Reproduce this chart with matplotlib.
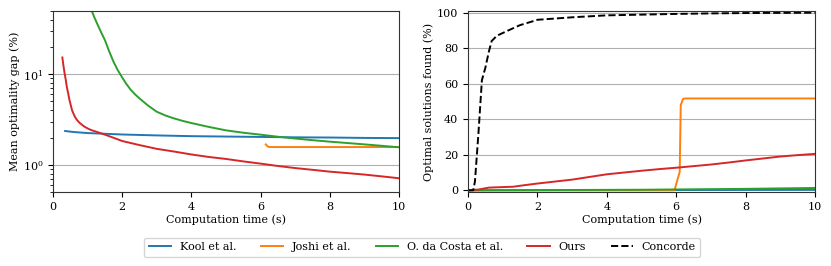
import matplotlib
matplotlib.use("Agg")
import matplotlib.pyplot as plt
from matplotlib.lines import Line2D

plt.rcParams['font.family'] = ['DejaVu Serif']
plt.rcParams['font.size'] = 8

# ---- Left panel: mean optimality gap (%) ----
kool_t = [0.35, 0.6, 1.0, 1.5, 2.0, 3.0, 4.0, 5.0, 6.0, 7.0, 8.0, 9.0, 10.0]
kool_gap = [2.36, 2.30, 2.24, 2.20, 2.16, 2.11, 2.07, 2.05, 2.03, 2.01, 2.00, 1.98, 1.97]

joshi_t = [6.15, 6.2, 6.25, 7.0, 8.0, 9.0, 10.0]
joshi_gap = [1.68, 1.60, 1.57, 1.57, 1.57, 1.57, 1.57]

costa_t = [1.12, 1.2, 1.3, 1.4, 1.5, 1.62, 1.75, 1.87, 2.0, 2.12, 2.25, 2.37, 2.5, 2.75, 3.0, 3.25, 3.5, 3.75, 4.0, 4.5, 5.0, 5.5, 6.0, 6.5, 7.0, 7.5, 8.0, 8.5, 9.0, 9.5, 10.0]
costa_gap = [50, 42, 34.5, 28.5, 23.8, 18.0, 13.7, 11.1, 9.2, 7.8, 6.7, 6.0, 5.4, 4.5, 3.85, 3.5, 3.25, 3.05, 2.89, 2.62, 2.40, 2.26, 2.15, 2.04, 1.95, 1.87, 1.80, 1.74, 1.68, 1.62, 1.56]

ours_t = [0.27, 0.3, 0.33, 0.37, 0.4, 0.44, 0.47, 0.51, 0.55, 0.6, 0.65, 0.7, 0.77, 0.85, 0.92, 1.0, 1.1, 1.2, 1.4, 1.7, 2.0, 2.5, 3.0, 3.5, 4.0, 4.5, 5.0, 5.5, 6.0, 6.5, 7.0, 7.5, 8.0, 8.5, 9.0, 9.5, 10.0]
ours_gap = [15.3, 12.5, 10.5, 8.6, 7.2, 6.1, 5.3, 4.6, 4.0, 3.6, 3.3, 3.1, 2.9, 2.74, 2.62, 2.52, 2.42, 2.35, 2.22, 2.02, 1.83, 1.65, 1.50, 1.40, 1.30, 1.22, 1.16, 1.09, 1.03, 0.97, 0.92, 0.88, 0.84, 0.81, 0.78, 0.745, 0.71]

# ---- Right panel: optimal solutions found (%) ----
conc_t = [0.0, 0.15, 0.2, 0.3, 0.4, 0.5, 0.6, 0.68, 0.83, 1.16, 1.5, 1.84, 2.0, 3.0, 4.0, 5.0, 6.0, 7.0, 8.0, 9.0, 10.0]
conc_pct = [0.0, 0.0, 5.0, 32.0, 62.0, 69.0, 78.0, 84.0, 87.0, 90.0, 93.0, 95.0, 96.0, 97.4, 98.5, 98.9, 99.3, 99.6, 99.8, 99.9, 100.0]

joshi_pt = [0.0, 5.95, 6.05, 6.1, 6.13, 6.2, 6.25, 10.0]
joshi_pct = [0.0, 0.0, 7.0, 10.3, 48.0, 51.5, 51.7, 51.7]

ours_pt = [0.0, 0.3, 0.6, 1.0, 1.3, 1.6, 2.0, 2.5, 3.0, 3.5, 4.0, 4.5, 5.0, 5.5, 6.0, 6.5, 7.0, 7.5, 8.0, 8.5, 9.0, 9.5, 10.0]
ours_pct = [0.0, 0.4, 1.5, 1.8, 2.0, 2.8, 3.8, 4.9, 6.0, 7.5, 9.0, 10.0, 11.0, 11.9, 12.7, 13.6, 14.5, 15.6, 16.8, 17.9, 19.0, 19.8, 20.5]

costa_pt = [0.0, 2.0, 5.0, 8.0, 10.0]
costa_pct = [0.0, 0.1, 0.3, 0.8, 1.3]

kool_pt = [0.0, 5.0, 10.0]
kool_pct = [0.0, 0.1, 0.3]

c_blue, c_orange, c_green, c_red = '#1f77b4', '#ff7f0e', '#2ca02c', '#d62728'
lw = 1.4

fig = plt.figure(figsize=(8.31, 2.66), dpi=100)
ax1 = fig.add_axes([0.0638, 0.278, 0.4163, 0.681])
ax2 = fig.add_axes([0.5632, 0.278, 0.4176, 0.681])

ax1.plot(kool_t, kool_gap, color=c_blue, lw=lw)
ax1.plot(joshi_t, joshi_gap, color=c_orange, lw=lw)
ax1.plot(costa_t, costa_gap, color=c_green, lw=lw)
ax1.plot(ours_t, ours_gap, color=c_red, lw=lw)
ax1.set_yscale('log')
ax1.set_ylim(0.5, 50)
ax1.set_xlim(0, 10)
ax1.set_xticks([0, 2, 4, 6, 8, 10])
ax1.grid(axis='y', which='major', color='#b0b0b0', lw=0.8)
ax1.set_axisbelow(True)
ax1.set_xlabel('Computation time (s)', labelpad=2)
ax1.set_ylabel('Mean optimality gap (%)', labelpad=2)

ax2.plot(kool_pt, kool_pct, color=c_blue, lw=lw)
ax2.plot(joshi_pt, joshi_pct, color=c_orange, lw=lw)
ax2.plot(costa_pt, costa_pct, color=c_green, lw=lw)
ax2.plot(ours_pt, ours_pct, color=c_red, lw=lw)
ax2.plot(conc_t, conc_pct, color='black', lw=lw, ls='--')
ax2.set_xlim(0, 10)
ax2.set_ylim(-1, 101)
ax2.set_xticks([0, 2, 4, 6, 8, 10])
ax2.set_yticks([0, 20, 40, 60, 80, 100])
ax2.grid(axis='y', which='major', color='#b0b0b0', lw=0.8)
ax2.set_axisbelow(True)
ax2.set_xlabel('Computation time (s)', labelpad=2)
ax2.set_ylabel('Optimal solutions found (%)', labelpad=2)

for ax in (ax1, ax2):
    for s in ax.spines.values():
        s.set_color('#333333')
        s.set_linewidth(0.8)

handles = [Line2D([], [], color=c_blue, lw=lw),
           Line2D([], [], color=c_orange, lw=lw),
           Line2D([], [], color=c_green, lw=lw),
           Line2D([], [], color=c_red, lw=lw),
           Line2D([], [], color='black', lw=lw, ls='--')]
labels = ['Kool et al.', 'Joshi et al.', 'O. da Costa et al.', 'Ours', 'Concorde']
fig.legend(handles, labels, loc='center', bbox_to_anchor=(0.508, 0.070), ncol=5,
           frameon=True, fontsize=8, columnspacing=2.2, handlelength=2.0)

fig.savefig('out.png', dpi=100)
